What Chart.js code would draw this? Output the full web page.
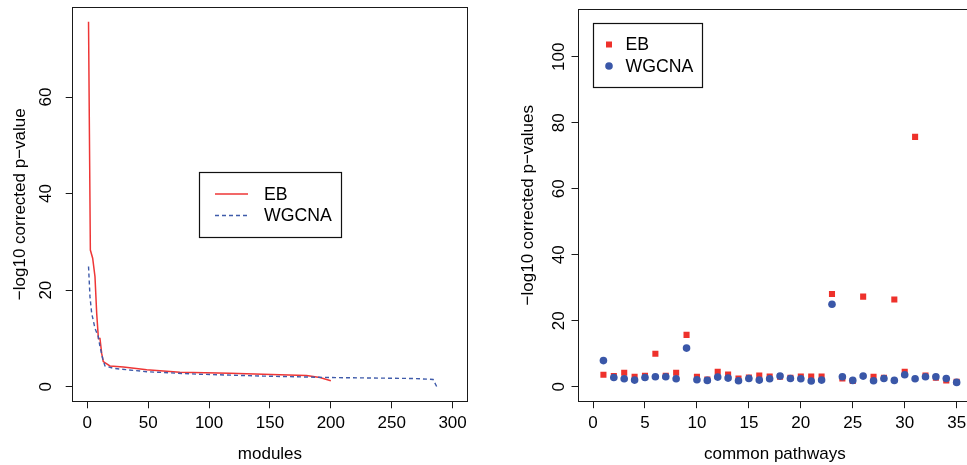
<!DOCTYPE html>
<html>
<head>
<meta charset="utf-8">
<script src="https://cdn.jsdelivr.net/npm/chart.js@4.4.1/dist/chart.umd.min.js"></script>
<style>
  html, body { margin: 0; padding: 0; background: #fff; overflow: hidden; width: 967px; height: 465px; }
  .panel { position: absolute; top: 0; }
</style>
</head>
<body>
<div class="panel" style="left:0px;"><canvas id="left" width="480" height="465"></canvas></div>
<div class="panel" style="left:480px;"><canvas id="right" width="500" height="465"></canvas></div>
<script>
// ---------- Left panel data: sorted -log10 corrected p-values per module ----------
const ebModuleX   = [1, 2.5, 4.4, 6.3, 7.7, 9.1, 10.4, 11.8, 13.1, 18.6, 29.6, 41.9, 48.8, 76, 117, 158, 180, 191, 200];
const ebModuleY   = [75.6, 28.3, 26.6, 22.8, 15.2, 10, 10, 6.9, 5.2, 4.3, 4.1, 3.7, 3.5, 3.0, 2.8, 2.5, 2.3, 1.9, 1.25];
const wgModuleX   = [1, 2.2, 3.6, 6.3, 9, 10.4, 12.6, 14.5, 21.4, 48.8, 89.8, 144.5, 199, 267.7, 284, 287];
const wgModuleY   = [24.9, 18.6, 15.2, 12.1, 10.4, 8.3, 5.9, 4.3, 3.8, 3.1, 2.6, 2.2, 1.9, 1.7, 1.5, 0];
const leftXTicks  = [0, 50, 100, 150, 200, 250, 300];
const leftYTicks  = [0, 20, 40, 60];

// ---------- Right panel data: common pathways ----------
const pathways    = [1,2,3,4,5,6,7,8,9,10,11,12,13,14,15,16,17,18,19,20,21,22,23,24,25,26,27,28,29,30,31,32,33,34,35];
const ebPathway   = [3.6,3.2,4.2,3.0,3.3,10.0,3.3,4.2,15.7,3.0,2.2,4.5,3.7,2.5,2.8,3.4,3.1,3.0,2.7,3.1,3.1,3.1,28.1,2.5,1.7,27.3,3.0,2.7,26.4,4.5,75.7,3.4,2.7,1.9,1.5];
const wgPathway   = [7.9,2.8,2.4,2.0,2.8,3.0,3.0,2.4,11.7,2.1,1.9,2.9,2.6,1.8,2.5,2.0,2.4,3.2,2.5,2.4,1.7,2.0,25.0,3.0,1.9,3.2,1.8,2.5,1.9,3.6,2.4,3.0,3.0,2.5,1.3];
const rightXTicks = [0, 5, 10, 15, 20, 25, 30, 35];
const rightYTicks = [0, 20, 40, 60, 80, 100];

const seriesNames = ['EB', 'WGCNA'];

// ---------- styling ----------
const FONT = '"Liberation Sans", Arial, Helvetica, sans-serif';
Chart.defaults.font.family = FONT;
Chart.defaults.color = '#000';
const RED_LINE = '#EE3636';
const BLUE_LINE = '#3F5BAA';
const RED_PT = '#EE312B';
const BLUE_PT = '#3A57A8';
const AXIS = '#1a1a1a';

function pairs(xs, ys) { return xs.map((x, i) => ({ x: x, y: ys[i] })); }

function legendPlugin(cfg) {
  return {
    id: 'rlegend_' + cfg.kind,
    afterDraw(chart) {
      const ctx = chart.ctx;
      ctx.save();
      ctx.strokeStyle = '#111';
      ctx.lineWidth = 1.2;
      ctx.strokeRect(cfg.box[0] + 0.5, cfg.box[1] + 0.5, cfg.box[2] - cfg.box[0], cfg.box[3] - cfg.box[1]);
      ctx.font = cfg.fontSize + 'px ' + FONT;
      ctx.textBaseline = 'middle';
      ctx.textAlign = 'left';
      cfg.rows.forEach((row, i) => {
        const ds = chart.data.datasets[i];
        if (cfg.kind === 'line') {
          ctx.beginPath();
          ctx.strokeStyle = ds.borderColor;
          ctx.lineWidth = ds.borderWidth;
          ctx.setLineDash(ds.borderDash || []);
          ctx.moveTo(cfg.symX[0], row.y);
          ctx.lineTo(cfg.symX[1], row.y);
          ctx.stroke();
          ctx.setLineDash([]);
        } else {
          ctx.fillStyle = ds.pointBackgroundColor;
          if (ds.pointStyle === 'rect') {
            ctx.fillRect(cfg.symX[0] - 3, row.y - 3, 6, 6);
          } else {
            ctx.beginPath();
            ctx.arc(cfg.symX[0], row.y, 3.8, 0, Math.PI * 2);
            ctx.fill();
          }
        }
        ctx.fillStyle = '#000';
        ctx.fillText(ds.label, cfg.textX, row.y + 1);
      });
      ctx.restore();
    }
  };
}

function xScale(min, max, ticks, title, height, tickPad, titlePadBottom) {
  return {
    type: 'linear', position: 'bottom', min: min, max: max,
    afterBuildTicks: s => { s.ticks = ticks.map(v => ({ value: v })); },
    afterFit: s => { s.height = height; s.paddingLeft = 0; s.paddingRight = 0; },
    grid: { display: true, drawOnChartArea: false, drawTicks: true, tickLength: 7, color: AXIS, lineWidth: 1 },
    border: { display: true, color: AXIS, width: 1 },
    ticks: { font: { size: 17 }, color: '#000', padding: tickPad, maxRotation: 0, minRotation: 0, autoSkip: false },
    title: { display: true, text: title, font: { size: 17 }, color: '#000', padding: { top: 0, bottom: titlePadBottom } }
  };
}
function yScale(min, max, ticks, title, width, tickPad, titlePadTop) {
  return {
    type: 'linear', position: 'left', min: min, max: max,
    afterBuildTicks: s => { s.ticks = ticks.map(v => ({ value: v })); },
    afterFit: s => { s.width = width; s.paddingTop = 0; s.paddingBottom = 0; },
    grid: { display: true, drawOnChartArea: false, drawTicks: true, tickLength: 7, color: AXIS, lineWidth: 1 },
    border: { display: true, color: AXIS, width: 1 },
    ticks: { font: { size: 17 }, color: '#000', padding: tickPad, minRotation: 90, maxRotation: 90, crossAlign: 'center', autoSkip: false },
    title: { display: true, text: title, font: { size: 17 }, color: '#000', padding: { top: titlePadTop, bottom: 0 } }
  };
}
// frame-only axes (top and right edges of the R box)
function frameScale(position, axis, min, max) {
  return {
    type: 'linear', position: position, axis: axis, min: min, max: max,
    afterFit: s => {
      if (axis === 'x') { s.height = 0; } else { s.width = 0; }
      s.paddingLeft = 0; s.paddingRight = 0; s.paddingTop = 0; s.paddingBottom = 0;
    },
    grid: { display: true, drawOnChartArea: false, drawTicks: false, color: 'rgba(0,0,0,0)' },
    border: { display: true, color: AXIS, width: 1 },
    ticks: { display: false },
    title: { display: false }
  };
}

// ---------- Left chart ----------
new Chart(document.getElementById('left'), {
  type: 'scatter',
  data: {
    datasets: [
      { label: seriesNames[0], data: pairs(ebModuleX, ebModuleY), showLine: true, borderColor: RED_LINE, borderWidth: 1.5,
        pointRadius: 0, tension: 0, order: 1 },
      { label: seriesNames[1], data: pairs(wgModuleX, wgModuleY), showLine: true, borderColor: BLUE_LINE, borderWidth: 1.4,
        borderDash: [4, 3], pointRadius: 0, tension: 0, order: 0 }
    ]
  },
  options: {
    responsive: false, animation: false, devicePixelRatio: 1,
    layout: { padding: { left: 0, top: 7.1, right: 12.8, bottom: 0 } },
    plugins: { legend: { display: false }, tooltip: { enabled: false } },
    scales: {
      x: xScale(-12, 312, leftXTicks, 'modules', 63.7, 5, 0),
      y: yScale(-3.024, 78.62, leftYTicks, '−log10 corrected p−value', 72.7, 9.5, 9.8),
      xTop: frameScale('top', 'x', -12, 312),
      yRight: frameScale('right', 'y', -3.024, 78.62)
    }
  },
  plugins: [legendPlugin({ kind: 'line', box: [199, 172, 341, 237], symX: [215, 248], textX: 264,
    fontSize: 17.7, rows: [{ y: 194 }, { y: 215.5 }] })]
});

// ---------- Right chart ----------
new Chart(document.getElementById('right'), {
  type: 'scatter',
  data: {
    datasets: [
      { label: seriesNames[0], data: pairs(pathways, ebPathway), pointStyle: 'rect', pointRadius: 4.3,
        pointBackgroundColor: RED_PT, pointBorderWidth: 0, pointBorderColor: RED_PT, order: 1 },
      { label: seriesNames[1], data: pairs(pathways, wgPathway), pointStyle: 'circle', pointRadius: 3.8,
        pointBackgroundColor: BLUE_PT, pointBorderWidth: 0, pointBorderColor: BLUE_PT, order: 0 }
    ]
  },
  options: {
    responsive: false, animation: false, devicePixelRatio: 1,
    layout: { padding: { left: 0, top: 9.2, right: 8.8, bottom: 0 } },
    plugins: { legend: { display: false }, tooltip: { enabled: false } },
    scales: {
      x: xScale(-1.4, 36.4, rightXTicks, 'common pathways', 63.8, 5, 0),
      y: yScale(-4.4, 114.4, rightYTicks, '−log10 corrected p−values', 98.5, -2.2, 38.1),
      xTop: frameScale('top', 'x', -1.4, 36.4),
      yRight: frameScale('right', 'y', -4.4, 114.4)
    }
  },
  plugins: [legendPlugin({ kind: 'point', box: [113, 23, 222, 87], symX: [129], textX: 145.5,
    fontSize: 17.7, rows: [{ y: 44.5 }, { y: 66 }] })]
});
</script>
</body>
</html>
